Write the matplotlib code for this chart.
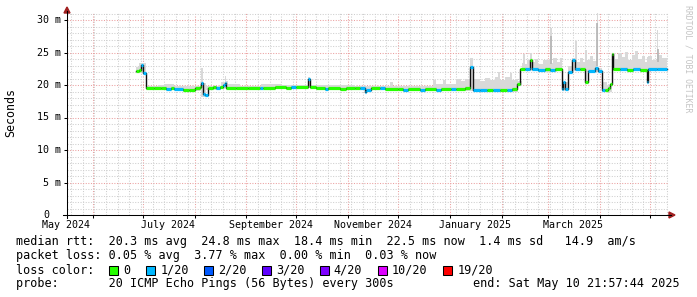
''' SmokePing style latency chart: median rtt with loss colours and smoke.
'''

import numpy as np
import pandas as pd
import matplotlib
matplotlib.use('Agg')
import matplotlib.pyplot as plt
import matplotlib.dates as mdates
from matplotlib.ticker import MultipleLocator
from matplotlib.transforms import blended_transform_factory
from matplotlib.patches import Polygon, Rectangle
from matplotlib.lines import Line2D

W, H = 697, 297
MONO = 'DejaVu Sans Mono'

# median rtt (ms), each value holds from its date to the next date
med_dates = ['2024-06-27', '2024-06-29', '2024-06-30', '2024-07-01', '2024-07-03',
             '2024-07-08', '2024-07-12', '2024-07-15', '2024-07-18', '2024-07-20',
             '2024-07-25', '2024-07-29', '2024-08-01', '2024-08-04', '2024-08-05',
             '2024-08-06', '2024-08-07', '2024-08-09', '2024-08-12', '2024-08-14',
             '2024-08-16', '2024-08-18', '2024-08-19', '2024-08-20', '2024-08-26',
             '2024-09-02', '2024-09-09', '2024-09-11', '2024-09-18', '2024-09-25',
             '2024-09-28', '2024-10-01', '2024-10-08', '2024-10-09', '2024-10-13',
             '2024-10-18', '2024-10-20', '2024-10-27', '2024-10-31', '2024-11-05',
             '2024-11-08', '2024-11-11', '2024-11-12', '2024-11-15', '2024-11-20',
             '2024-11-23', '2024-12-01', '2024-12-04', '2024-12-07', '2024-12-14',
             '2024-12-17', '2024-12-24', '2024-12-27', '2025-01-02', '2025-01-05',
             '2025-01-10', '2025-01-13', '2025-01-15', '2025-01-19', '2025-01-23',
             '2025-01-27', '2025-01-31', '2025-02-04', '2025-02-07', '2025-02-10',
             '2025-02-12', '2025-02-15', '2025-02-18', '2025-02-19', '2025-02-23',
             '2025-02-27', '2025-03-02', '2025-03-05', '2025-03-09', '2025-03-10',
             '2025-03-11', '2025-03-13', '2025-03-15', '2025-03-17', '2025-03-20',
             '2025-03-23', '2025-03-25', '2025-03-29', '2025-03-31', '2025-04-02',
             '2025-04-04', '2025-04-06', '2025-04-07', '2025-04-08', '2025-04-09',
             '2025-04-13', '2025-04-17', '2025-04-21', '2025-04-25', '2025-04-29',
             '2025-04-30', '2025-05-05', '2025-05-10 22:00']
med_ms = [22.1, 22.3, 23.1, 21.9, 19.5,
          19.6, 19.5, 19.4, 19.5, 19.4,
          19.3, 19.2, 19.5, 19.7, 20.3,
          18.6, 18.4, 19.6, 19.7, 19.5,
          19.7, 20.0, 20.3, 19.6, 19.5,
          19.6, 19.5, 19.6, 19.7, 19.6,
          19.7, 19.7, 20.9, 19.7, 19.6,
          19.4, 19.5, 19.4, 19.6, 19.5,
          19.5, 18.9, 19.3, 19.5, 19.5,
          19.4, 19.4, 19.3, 19.4, 19.3,
          19.4, 19.3, 19.4, 19.4, 19.4,
          19.5, 22.7, 19.3, 19.2, 19.3,
          19.3, 19.3, 19.3, 19.4, 20.2,
          22.4, 22.4, 23.9, 22.4, 22.3,
          22.4, 22.3, 22.4, 19.4, 20.5,
          19.4, 22.0, 23.9, 22.4, 22.4,
          20.5, 22.2, 22.6, 22.1, 19.3,
          19.2, 19.6, 20.1, 24.8, 22.4,
          22.4, 22.3, 22.4, 22.3, 20.5,
          22.4, 22.5, 22.5]
med_loss = [0, 0, 1, 1, 0,
            0, 0, 1, 0, 1,
            0, 0, 0, 0, 1,
            1, 1, 0, 0, 1,
            0, 1, 1, 0, 0,
            0, 1, 0, 0, 0,
            1, 0, 1, 0, 0,
            1, 0, 0, 0, 0,
            1, 1, 1, 0, 1,
            0, 0, 1, 0, 1,
            0, 1, 0, 1, 0,
            0, 1, 1, 1, 0,
            1, 0, 1, 0, 0,
            0, 1, 0, 1, 1,
            0, 1, 0, 1, 1,
            1, 1, 1, 1, 0,
            0, 1, 1, 1, 1,
            0, 0, 0, 0, 0,
            1, 0, 1, 0, 1,
            1, 1, 1]

# smoke: spread of the 20 pings (ms)
smoke_dates = ['2024-06-27', '2024-06-29', '2024-07-01', '2024-07-03', '2024-07-10',
               '2024-07-14', '2024-07-20', '2024-07-28', '2024-08-04', '2024-08-05',
               '2024-08-06', '2024-08-08', '2024-08-17', '2024-08-19', '2024-08-20',
               '2024-08-21', '2024-08-28', '2024-09-10', '2024-09-22', '2024-10-08',
               '2024-10-09', '2024-10-25', '2024-11-05', '2024-11-11', '2024-11-13',
               '2024-11-26', '2024-11-28', '2024-12-22', '2024-12-24', '2024-12-28',
               '2024-12-30', '2025-01-05', '2025-01-08', '2025-01-10', '2025-01-13',
               '2025-01-15', '2025-01-19', '2025-01-22', '2025-01-25', '2025-01-28',
               '2025-01-30', '2025-01-31', '2025-02-03', '2025-02-06', '2025-02-07',
               '2025-02-09', '2025-02-11', '2025-02-13', '2025-02-14', '2025-02-15',
               '2025-02-16', '2025-02-18', '2025-02-19', '2025-02-21', '2025-02-23',
               '2025-02-26', '2025-03-02', '2025-03-03', '2025-03-04', '2025-03-06',
               '2025-03-08', '2025-03-09', '2025-03-13', '2025-03-15', '2025-03-17',
               '2025-03-18', '2025-03-20', '2025-03-22', '2025-03-23', '2025-03-24',
               '2025-03-26', '2025-03-28', '2025-03-30', '2025-03-31', '2025-04-02',
               '2025-04-05', '2025-04-08', '2025-04-10', '2025-04-12', '2025-04-14',
               '2025-04-16', '2025-04-18', '2025-04-20', '2025-04-22', '2025-04-24',
               '2025-04-26', '2025-04-28', '2025-04-29', '2025-04-30', '2025-05-02',
               '2025-05-05', '2025-05-06', '2025-05-08', '2025-05-10 22:00']
smoke_lo = [21.9, 21.9, 21.6, 19.3, 19.3,
            19.2, 19.2, 19.1, 19.3, 18.2,
            18.2, 19.3, 19.4, 19.5, 19.4,
            19.4, 19.3, 19.4, 19.4, 19.5,
            19.4, 19.3, 19.3, 18.7, 19.2,
            19.2, 19.2, 19.1, 19.1, 19.1,
            19.1, 19.1, 19.1, 19.1, 19.1,
            19.0, 19.0, 19.0, 19.0, 19.0,
            19.0, 19.0, 19.0, 19.0, 19.0,
            19.0, 19.8, 22.1, 22.1, 22.1,
            22.1, 22.1, 22.1, 22.1, 22.0,
            22.0, 22.0, 22.0, 22.0, 22.1,
            22.1, 19.1, 21.8, 22.2, 22.1,
            22.1, 22.1, 22.1, 20.2, 22.0,
            22.0, 22.0, 22.2, 22.0, 19.0,
            19.0, 22.1, 22.1, 22.1, 22.1,
            22.1, 22.1, 22.1, 22.1, 22.1,
            22.1, 22.1, 20.3, 22.1, 22.1,
            22.1, 22.1, 22.1, 22.1]
smoke_hi = [22.8, 23.4, 23.4, 19.9, 20.0,
            20.2, 19.9, 19.8, 20.1, 22.6,
            20.3, 19.9, 20.5, 21.4, 20.6,
            20.2, 19.9, 20.1, 20.0, 21.2,
            20.0, 20.0, 19.9, 19.8, 19.9,
            20.4, 19.9, 20.8, 20.2, 20.7,
            20.1, 21.0, 20.6, 21.0, 24.1,
            20.9, 20.6, 21.1, 20.7, 21.2,
            22.0, 20.8, 21.3, 21.8, 20.7,
            21.0, 20.6, 23.4, 24.7, 23.3,
            23.9, 24.9, 23.5, 24.0, 23.2,
            23.8, 28.7, 23.4, 24.2, 23.6,
            24.1, 20.5, 23.0, 24.2, 26.7,
            23.6, 24.2, 23.5, 25.4, 23.9,
            24.4, 23.7, 31.1, 22.6, 20.5,
            20.0, 24.9, 24.0, 25.0, 24.3,
            25.1, 23.9, 24.6, 25.2, 24.0,
            24.5, 23.6, 24.3, 24.4, 23.8,
            28.5, 24.6, 24.1, 24.1]

# darker cores of the largest spikes (ms)
core_dates = ['2025-03-02', '2025-03-30', '2025-05-05']
core_lo = [23.2, 23.0, 23.5]
core_hi = [27.5, 29.5, 25.5]

loss_labels = ['0', '1/20', '2/20', '3/20', '4/20', '10/20', '19/20']
loss_colors = ['#26ff00', '#00b8ff', '#0059ff', '#5e00ff', '#7e00ff', '#dd00ff', '#ff0000']

x_labels = ['May 2024', 'July 2024', 'September 2024', 'November 2024',
            'January 2025', 'March 2025']
x_label_months = ['2024-05-01', '2024-07-01', '2024-09-01', '2024-11-01',
                  '2025-01-01', '2025-03-01']
y_ticks = [0, 5, 10, 15, 20, 25, 30]
y_labels = ['0', '5 m', '10 m', '15 m', '20 m', '25 m', '30 m']

legend_rows = [
    'median rtt:  20.3 ms avg  24.8 ms max  18.4 ms min  22.5 ms now  1.4 ms sd   14.9  am/s',
    'packet loss: 0.05 % avg  3.77 % max  0.00 % min  0.03 % now',
    'loss color:',
    'probe:       20 ICMP Echo Pings (56 Bytes) every 300s',
]
end_text = 'end: Sat May 10 21:57:44 2025'


def fx(px):
    return px / W


def fy(py):
    return 1 - py / H


fig = plt.figure(figsize=(W / 100, H / 100), dpi=100)
fig.patch.set_facecolor('white')
ax = fig.add_axes([fx(67), fy(215), 602 / W, 202 / H])
for s in ax.spines.values():
    s.set_visible(False)

t_med = pd.to_datetime(med_dates, format='mixed')
t_smoke = pd.to_datetime(smoke_dates, format='mixed')
t_core = pd.to_datetime(core_dates) + pd.Timedelta(hours=12)

# smoke
ax.fill_between(t_smoke, smoke_lo, smoke_hi, step='post', color='#d9d9d9',
                lw=0, zorder=2)
ax.vlines(t_core, core_lo, core_hi, colors='#b4b4b4', lw=1.2, zorder=2)

# median: thin dark step line, loss coloured flats on top
ax.step(t_med, med_ms, where='post', color='#101010', lw=1.0, zorder=3)
ax.hlines(med_ms[:-1], t_med[:-1], t_med[1:],
          colors=[loss_colors[k] for k in med_loss[:-1]], lw=2.3, zorder=4)

ax.set_xlim(pd.Timestamp('2024-05-16 14:00'), pd.Timestamp('2025-05-12 09:00'))
ax.set_ylim(0, 31.08)

# grid
ax.xaxis.set_major_locator(mdates.MonthLocator())
ax.xaxis.set_minor_locator(mdates.WeekdayLocator(byweekday=mdates.SU))
ax.yaxis.set_major_locator(MultipleLocator(5))
ax.yaxis.set_minor_locator(MultipleLocator(1))
ax.grid(which='minor', color='#cfcfcf', lw=0.75, ls=(0, (1, 1.5)))
ax.grid(which='major', color='#eba0a0', lw=0.75, ls=(0, (1, 1.5)))
ax.set_axisbelow(True)
ax.tick_params(which='major', length=2.2, width=0.75, color='black',
               labelbottom=False, labelleft=False)
ax.tick_params(which='minor', length=0, labelbottom=False, labelleft=False)

# axes and arrows
fig.add_artist(Line2D([fx(63), fx(671)], [fy(215), fy(215)], color='black', lw=0.75))
fig.add_artist(Line2D([fx(67), fx(67)], [fy(218), fy(11)], color='black', lw=0.75))
fig.add_artist(Polygon([[fx(64), fy(13)], [fx(70), fy(13)], [fx(67), fy(7)]],
                       closed=True, color='#a02020', transform=fig.transFigure))
fig.add_artist(Polygon([[fx(669), fy(212)], [fx(669), fy(218)], [fx(675), fy(215)]],
                       closed=True, color='#a02020', transform=fig.transFigure))

# tick labels
for v, lab in zip(y_ticks, y_labels):
    xr = 61 if lab != '0' else 49
    fig.text(fx(xr), fy(215 - v * 6.5), lab, ha='right', va='center',
             family=MONO, fontsize=7.2)
trans = blended_transform_factory(ax.transData, fig.transFigure)
for lab, m in zip(x_labels, x_label_months):
    ax.text(pd.Timestamp(m) + pd.Timedelta(days=15), fy(225), lab, transform=trans,
            ha='center', va='center', family=MONO, fontsize=7.2, clip_on=False)

fig.text(fx(11), fy(113), 'Seconds', rotation=90, ha='center', va='center',
         family=MONO, fontsize=8.4)
fig.text(fx(688), fy(5), 'RRDTOOL / TOBI OETIKER', rotation=270, ha='center',
         va='top', family=MONO, fontsize=5.9, color='#c4c4c4')

# legend
row_y = [241, 256, 270, 284]
for txt, yy in zip(legend_rows, row_y):
    fig.text(fx(16), fy(yy), txt, ha='left', va='center', family=MONO, fontsize=8.5)
fig.text(fx(680), fy(row_y[3]), end_text, ha='right', va='center',
         family=MONO, fontsize=8.5)

box_x = [109, 146, 204, 262, 320, 378, 443]
lab_x = [123.5, 161, 218, 276.5, 333, 392, 458]
for bx, lx, col, lab in zip(box_x, lab_x, loss_colors, loss_labels):
    fig.add_artist(Rectangle((fx(bx), fy(row_y[2] + 5)), 9 / W, 9 / H,
                             facecolor=col, edgecolor='black', lw=0.75,
                             transform=fig.transFigure))
    fig.text(fx(lx), fy(row_y[2]), lab, ha='left', va='center', family=MONO,
             fontsize=8.5)

fig.savefig('out.png', dpi=100)
